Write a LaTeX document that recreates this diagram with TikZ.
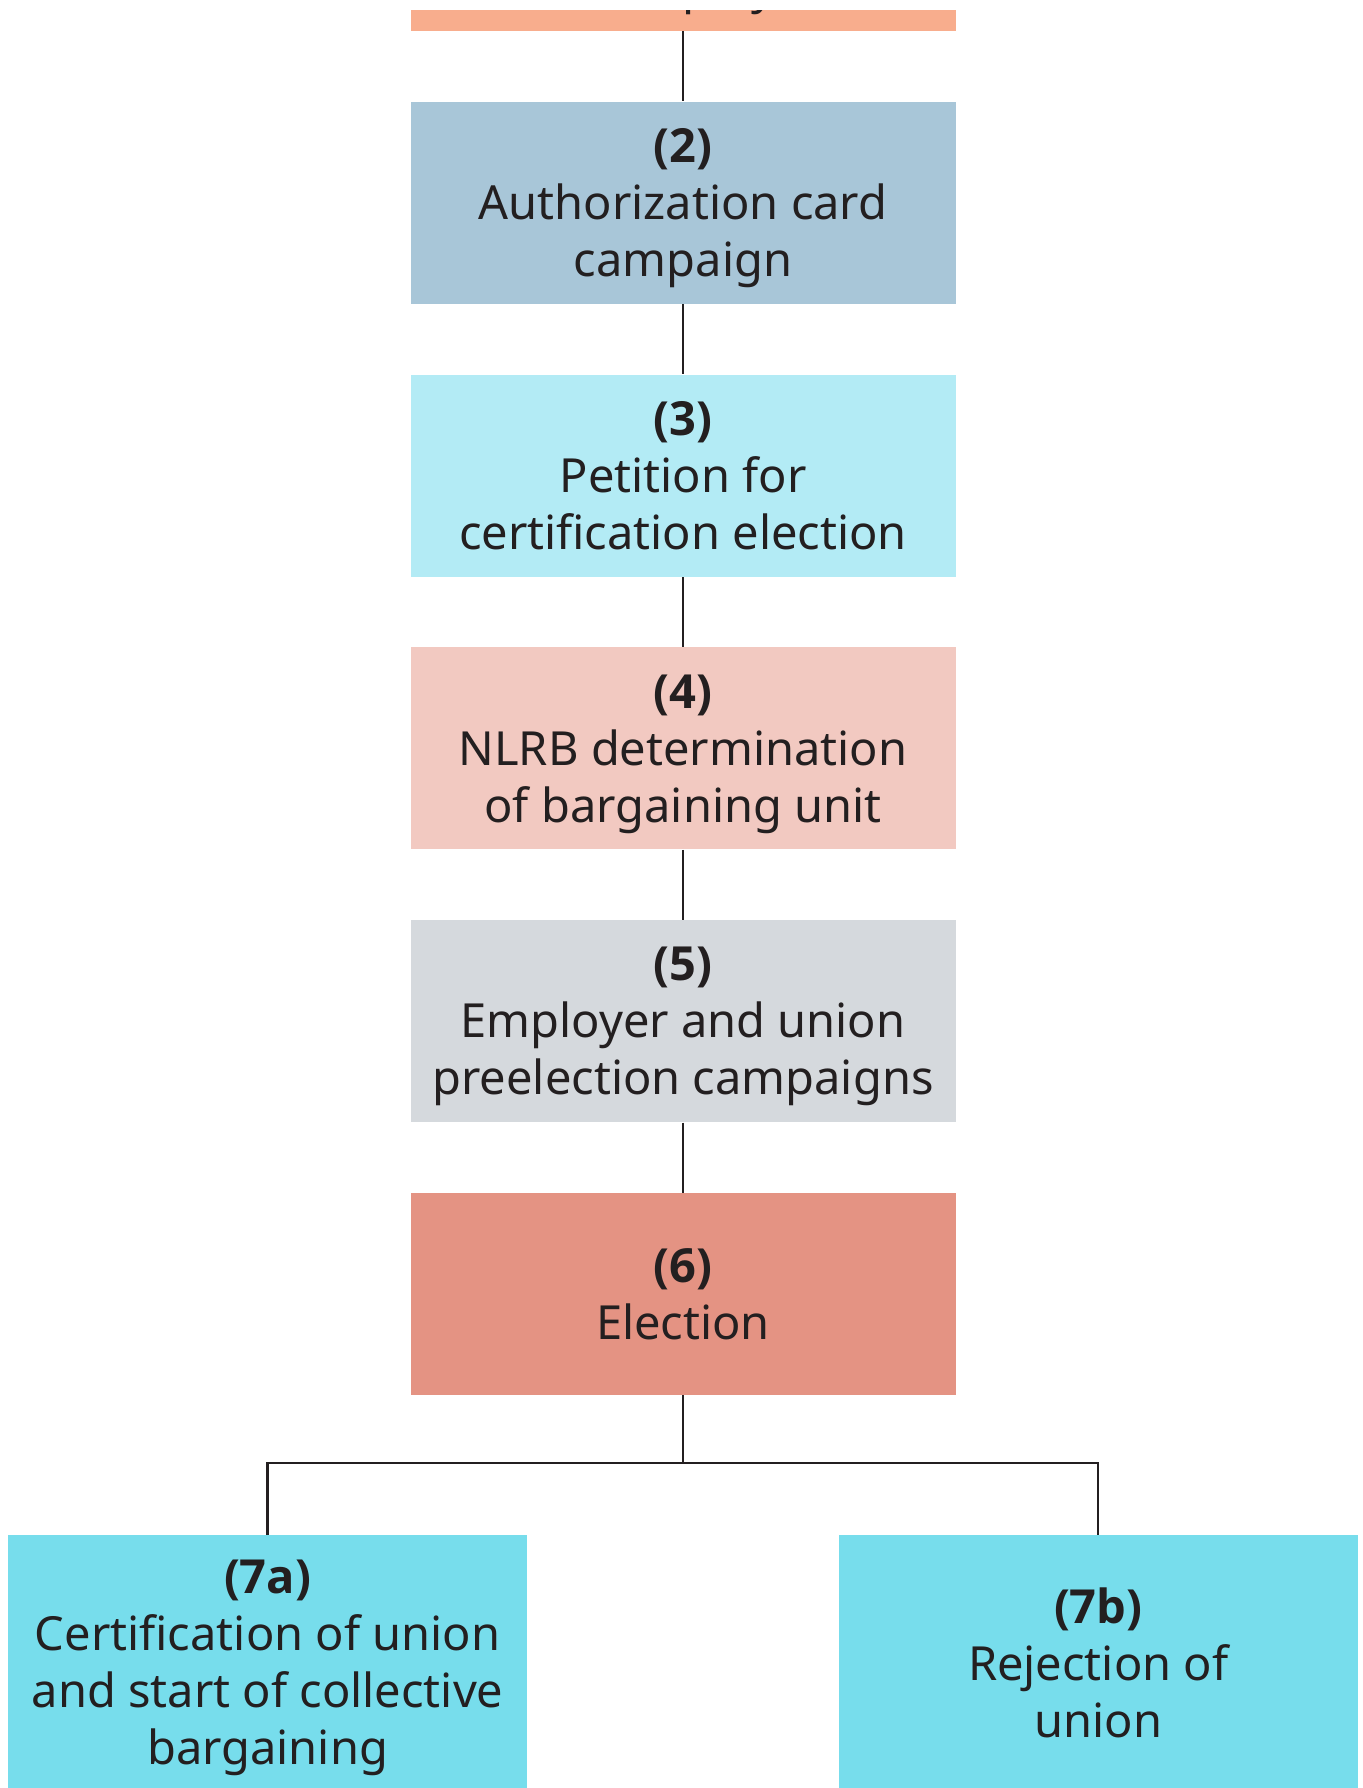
\documentclass[tikz,border=0pt]{standalone}
\usepackage{fontspec}
\setmainfont{Noto Sans}
\newfontfamily\stepfont{Open Sans}
\newcommand{\stepno}[1]{{\stepfont\bfseries(#1)}}
\usepackage{tikz}
\usetikzlibrary{positioning}
\usepackage{xcolor}
\definecolor{inkdark}{HTML}{231F20}
\definecolor{contactfill}{HTML}{F8AD8D}
\definecolor{cardfill}{HTML}{A8C6D8}
\definecolor{petitionfill}{HTML}{B3EBF5}
\definecolor{unitfill}{HTML}{F2C9C1}
\definecolor{campaignfill}{HTML}{D5D9DD}
\definecolor{electionfill}{HTML}{E49383}
\definecolor{outcomefill}{HTML}{77DDEC}

\begin{document}
\begin{tikzpicture}[
  node distance=35pt,
  box/.style={minimum width=272.5pt, minimum height=101pt, inner sep=0pt, align=center, text=inkdark, text depth=-2.2pt, font=\fontsize{23.5}{28.5}\selectfont},
  outcome/.style={box, fill=outcomefill, minimum width=259.5pt, minimum height=127pt},
  link/.style={draw=inkdark, line width=1.2pt}
]
  \useasboundingbox (0,0) rectangle (681pt,-894pt);
  \clip (0,-5pt) rectangle (681pt,-894pt);

  \node[box, fill=contactfill] (contact) at (341.5pt,35pt) {\stepno{1}\\Contact between union\\and employees};
  \node[box, fill=cardfill, below=of contact] (card) {\stepno{2}\\Authorization card\\campaign};
  \node[box, fill=petitionfill, below=of card] (petition) {\stepno{3}\\Petition for\\certification election};
  \node[box, fill=unitfill, below=of petition] (unit) {\stepno{4}\\NLRB determination\\of bargaining unit};
  \node[box, fill=campaignfill, below=of unit] (campaigns) {\stepno{5}\\Employer and union\\preelection campaigns};
  \node[box, fill=electionfill, below=of campaigns] (election) {\stepno{6}\\Election};
  \node[outcome, below=69.7pt of election, xshift=-207.7pt] (certify) {\stepno{7a}\\Certification of union\\and start of collective\\bargaining};
  \node[outcome, below=69.7pt of election, xshift=207.6pt] (reject) {\stepno{7b}\\Rejection of\\union};
  \coordinate[below=33.75pt of election] (split);

  \draw[link] (contact) -- (card);
  \draw[link] (card) -- (petition);
  \draw[link] (petition) -- (unit);
  \draw[link] (unit) -- (campaigns);
  \draw[link] (campaigns) -- (election);
  \draw[link] (election) -- (split) -| (certify);
  \draw[link] (split) -| (reject);
\end{tikzpicture}
\end{document}
